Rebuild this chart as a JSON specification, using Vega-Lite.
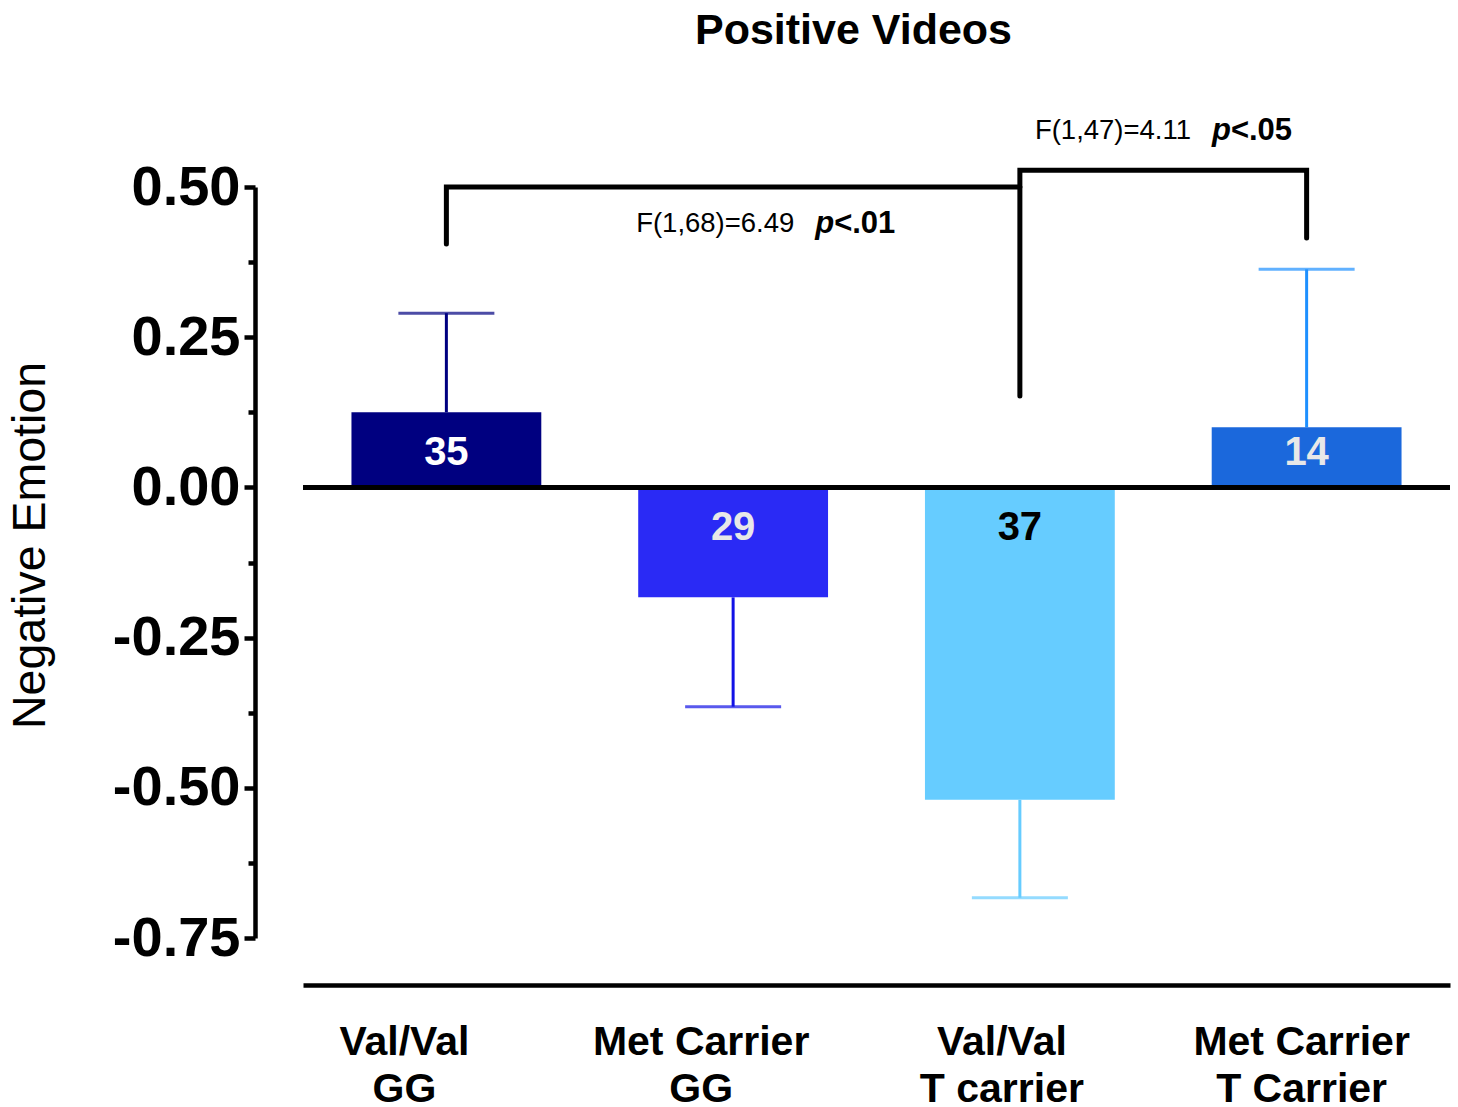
{
  "$schema": "https://vega.github.io/schema/vega-lite/v6.json",
  "width": 1147,
  "height": 751,
  "padding": {"left": 7, "top": 10, "right": 8, "bottom": 0},
  "autosize": {"type": "pad"},
  "config": {"font": "Liberation Sans", "view": {"stroke": null}},
  "title": {"text": "Positive Videos", "fontSize": 43, "fontWeight": "bold", "color": "black", "offset": 62, "dx": -23},
  "datasets": {
    "bars": [
      {"group": "Val/Val|GG", "n": "35", "mean": 0.125, "err": 0.29},
      {"group": "Met Carrier|GG", "n": "29", "mean": -0.183, "err": -0.365},
      {"group": "Val/Val|T carrier", "n": "37", "mean": -0.52, "err": -0.683},
      {"group": "Met Carrier|T Carrier", "n": "14", "mean": 0.1, "err": 0.363}
    ],
    "brackets": [
      {"b": 1, "o": 1, "group": "Val/Val|GG", "y": 0.405},
      {"b": 1, "o": 2, "group": "Val/Val|GG", "y": 0.5},
      {"b": 1, "o": 3, "group": "Val/Val|T carrier", "y": 0.5},
      {"b": 2, "o": 1, "group": "Val/Val|T carrier", "y": 0.152},
      {"b": 2, "o": 2, "group": "Val/Val|T carrier", "y": 0.528},
      {"b": 2, "o": 3, "group": "Met Carrier|T Carrier", "y": 0.528},
      {"b": 2, "o": 4, "group": "Met Carrier|T Carrier", "y": 0.415}
    ]
  },
  "data": {"name": "bars"},
  "layer": [
    {
      "mark": {"type": "rule", "strokeWidth": 3},
      "encoding": {
        "x": {"field": "group", "type": "nominal", "sort": null, "title": null},
        "y": {"field": "mean", "type": "quantitative", "title": "Negative Emotion"},
        "y2": {"field": "err"},
        "stroke": {"field": "group", "type": "nominal", "sort": null, "legend": null,
          "scale": {"domain": ["Val/Val|GG", "Met Carrier|GG", "Val/Val|T carrier", "Met Carrier|T Carrier"], "range": ["#000080", "#1212e6", "#66ccff", "#1e90ff"]}}
      }
    },
    {
      "mark": {"type": "tick", "size": 96, "thickness": 3},
      "encoding": {
        "x": {"field": "group", "type": "nominal", "sort": null, "title": null},
        "y": {"field": "err", "type": "quantitative", "title": "Negative Emotion"},
        "color": {"field": "group", "type": "nominal", "sort": null, "legend": null,
          "scale": {"domain": ["Val/Val|GG", "Met Carrier|GG", "Val/Val|T carrier", "Met Carrier|T Carrier"], "range": ["#000080", "#1212e6", "#66ccff", "#1e90ff"]}}
      }
    },
    {
      "mark": {"type": "bar"},
      "encoding": {
        "x": {
          "field": "group", "type": "nominal", "sort": null, "title": null,
          "scale": {"domain": ["Val/Val|GG", "Met Carrier|GG", "Val/Val|T carrier", "Met Carrier|T Carrier"], "paddingInner": 0.338, "paddingOuter": 0.169},
          "axis": {
            "orient": "bottom", "offset": 47, "domainWidth": 4.5, "domainColor": "black",
            "ticks": false, "labelExpr": "split(datum.value, '|')", "labelFontSize": 41, "labelFontWeight": "bold",
            "labelColor": "black", "labelPadding": 57, "labelLineHeight": 47, "labelAngle": 0, "labelOverlap": false,
            "labelAlign": "center", "labelLimit": 0,
            "labelOffset": {"condition": [
              {"test": "datum.value == 'Val/Val|GG'", "value": -42},
              {"test": "datum.value == 'Met Carrier|GG'", "value": -32},
              {"test": "datum.value == 'Val/Val|T carrier'", "value": -18}
            ], "value": -5}
          }
        },
        "y": {
          "field": "mean", "type": "quantitative", "title": "Negative Emotion",
          "scale": {"domain": [-0.75, 0.5], "nice": false, "zero": false},
          "axis": {
            "values": [-0.75, -0.625, -0.5, -0.375, -0.25, -0.125, 0, 0.125, 0.25, 0.375, 0.5],
            "labelExpr": "abs(datum.value*4 - round(datum.value*4)) < 0.001 ? replace(format(datum.value, '.2f'), '\u2212', '-') : ''",
            "offset": 48, "domainWidth": 4.5, "domainColor": "black", "tickColor": "black", "tickWidth": 4.5,
            "tickSize": {"condition": {"test": "abs(datum.value*4 - round(datum.value*4)) < 0.001", "value": 11}, "value": 7},
            "labelFontSize": 56, "labelFontWeight": "bold", "labelColor": "black", "labelPadding": 4, "grid": false,
            "titleFontSize": 46.5, "titleFontWeight": "normal", "titlePadding": 58, "titleColor": "black", "titleY": 358
          }
        },
        "y2": {"datum": 0},
        "fill": {"field": "group", "type": "nominal", "sort": null, "legend": null,
          "scale": {"domain": ["Val/Val|GG", "Met Carrier|GG", "Val/Val|T carrier", "Met Carrier|T Carrier"], "range": ["#000080", "#2a2af5", "#66ccff", "#1b68dc"]}}
      }
    },
    {
      "mark": {"type": "rule", "strokeWidth": 4.5, "color": "black"},
      "encoding": {"y": {"datum": 0, "type": "quantitative", "title": "Negative Emotion"}}
    },
    {
      "transform": [{"filter": "datum.mean > 0"}],
      "mark": {"type": "text", "fontSize": 40, "fontWeight": "bold", "baseline": "middle", "align": "center"},
      "encoding": {
        "x": {"field": "group", "type": "nominal", "sort": null, "title": null},
        "y": {"datum": 0.057, "type": "quantitative", "title": "Negative Emotion"},
        "text": {"field": "n"},
        "color": {"condition": {"test": "datum.n == '35'", "value": "#ffffff"}, "value": "#e8e8e8"}
      }
    },
    {
      "transform": [{"filter": "datum.mean < 0"}],
      "mark": {"type": "text", "fontSize": 40, "fontWeight": "bold", "baseline": "middle", "align": "center"},
      "encoding": {
        "x": {"field": "group", "type": "nominal", "sort": null, "title": null},
        "y": {"datum": -0.068, "type": "quantitative", "title": "Negative Emotion"},
        "text": {"field": "n"},
        "color": {"condition": {"test": "datum.n == '37'", "value": "#000000"}, "value": "#e8e8e8"}
      }
    },
    {
      "data": {"name": "brackets"},
      "mark": {"type": "line", "strokeWidth": 5, "color": "black", "strokeCap": "round", "strokeJoin": "miter"},
      "encoding": {
        "x": {"field": "group", "type": "nominal", "sort": null, "title": null},
        "y": {"field": "y", "type": "quantitative", "title": "Negative Emotion"},
        "order": {"field": "o", "type": "quantitative"},
        "detail": {"field": "b", "type": "nominal"}
      }
    },
    {
      "data": {"values": [{"t": "F(1,68)=6.49"}]},
      "mark": {"type": "text", "fontSize": 27.5, "align": "left", "baseline": "middle", "dx": -97, "color": "black"},
      "encoding": {"x": {"datum": "Met Carrier|GG", "title": null}, "y": {"datum": 0.438, "type": "quantitative", "title": "Negative Emotion"}, "text": {"field": "t"}}
    },
    {
      "data": {"values": [{"t": "p"}]},
      "mark": {"type": "text", "fontSize": 31, "fontWeight": "bold", "fontStyle": "italic", "align": "left", "baseline": "middle", "dx": 82, "color": "black"},
      "encoding": {"x": {"datum": "Met Carrier|GG", "title": null}, "y": {"datum": 0.438, "type": "quantitative", "title": "Negative Emotion"}, "text": {"field": "t"}}
    },
    {
      "data": {"values": [{"t": "<.01"}]},
      "mark": {"type": "text", "fontSize": 31, "fontWeight": "bold", "align": "left", "baseline": "middle", "dx": 101, "color": "black"},
      "encoding": {"x": {"datum": "Met Carrier|GG", "title": null}, "y": {"datum": 0.438, "type": "quantitative", "title": "Negative Emotion"}, "text": {"field": "t"}}
    },
    {
      "data": {"values": [{"t": "F(1,47)=4.11"}]},
      "mark": {"type": "text", "fontSize": 27.5, "align": "left", "baseline": "middle", "dx": 15, "color": "black"},
      "encoding": {"x": {"datum": "Val/Val|T carrier", "title": null}, "y": {"datum": 0.593, "type": "quantitative", "title": "Negative Emotion"}, "text": {"field": "t"}}
    },
    {
      "data": {"values": [{"t": "p"}]},
      "mark": {"type": "text", "fontSize": 31, "fontWeight": "bold", "fontStyle": "italic", "align": "left", "baseline": "middle", "dx": 192, "color": "black"},
      "encoding": {"x": {"datum": "Val/Val|T carrier", "title": null}, "y": {"datum": 0.593, "type": "quantitative", "title": "Negative Emotion"}, "text": {"field": "t"}}
    },
    {
      "data": {"values": [{"t": "<.05"}]},
      "mark": {"type": "text", "fontSize": 31, "fontWeight": "bold", "align": "left", "baseline": "middle", "dx": 211, "color": "black"},
      "encoding": {"x": {"datum": "Val/Val|T carrier", "title": null}, "y": {"datum": 0.593, "type": "quantitative", "title": "Negative Emotion"}, "text": {"field": "t"}}
    }
  ]
}
